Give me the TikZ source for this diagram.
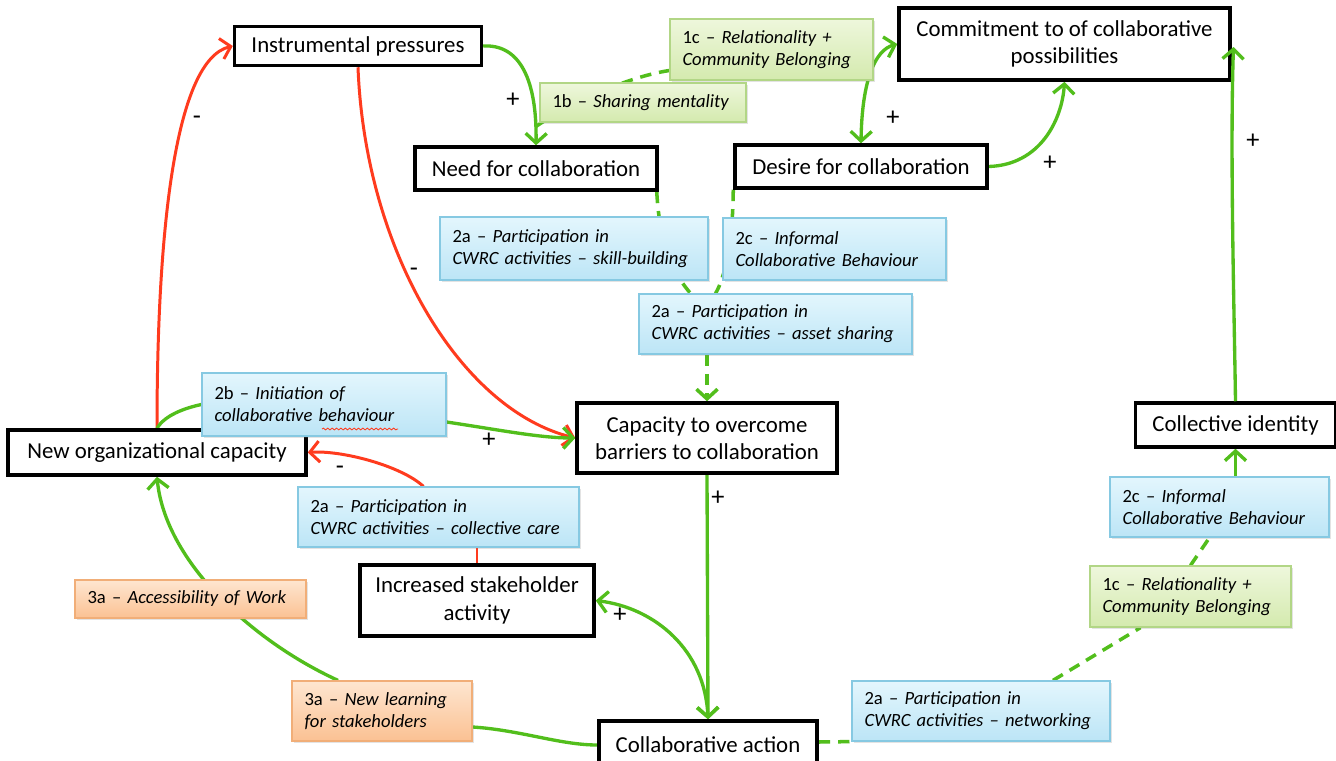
\documentclass[tikz,border=0pt]{standalone}
\usepackage{fontspec}
\setmainfont{Carlito}
\usetikzlibrary{positioning, arrows.meta, shadows, backgrounds, decorations.pathmorphing}
\definecolor{loopgreen}{HTML}{52BE1C}
\definecolor{loopred}{HTML}{FF3B1E}
\definecolor{bluetop}{HTML}{E3F6FD}
\definecolor{bluebot}{HTML}{BCE5F6}
\definecolor{blueedge}{HTML}{86C9E2}
\definecolor{greentop}{HTML}{EEF7DC}
\definecolor{greenbot}{HTML}{D4EAAE}
\definecolor{greenedge}{HTML}{B2D686}
\definecolor{orangetop}{HTML}{FEE6D0}
\definecolor{orangebot}{HTML}{FBC193}
\definecolor{orangeedge}{HTML}{F1AE78}

\tikzset{
  concept/.style={draw=black, line width=2pt, fill=white, align=center,
    font=\fontsize{13}{15.5}\selectfont, inner sep=2pt},
  evid/.style={draw=#1edge, line width=0.7pt, top color=#1top, bottom color=#1bot,
    align=left, inner xsep=0.25cm, inner ysep=2pt, font=\fontsize{10.6}{12.6}\selectfont,
    drop shadow={shadow xshift=1.2pt, shadow yshift=-1.2pt, opacity=0.22}},
  poslink/.style={draw=loopgreen, line width=1.9pt},
  neglink/.style={draw=loopred, line width=1.7pt},
  dashlink/.style={draw=loopgreen, line width=2pt, dash pattern=on 6.5pt off 4.5pt},
  sign/.style={font=\fontsize{15}{15}\selectfont},
  >={Straight Barb[length=5.5pt,width=12pt]}
}

\begin{document}
\begin{tikzpicture}[x=0.02cm, y=-0.02cm]
\useasboundingbox (0,0) rectangle (1336,761);

% factors
\node[concept, minimum width=4.94cm, minimum height=0.78cm] (inst) at (358,46) {Instrumental pressures};
\node[concept, minimum width=4.84cm, minimum height=0.86cm] (need) at (536,168.5) {Need for collaboration};
\node[concept, minimum width=5.04cm, minimum height=0.86cm] (desire) at (861,166.5) {Desire for collaboration};
\node[concept, minimum width=6.62cm, minimum height=1.44cm] (commit) at (1064.5,44) {Commitment to of collaborative\\possibilities};
\node[concept, minimum width=5.2cm, minimum height=1.4cm] (cap) at (707,438) {Capacity to overcome\\barriers to collaboration};
\node[concept, minimum width=5.96cm, minimum height=0.9cm] (neworg) at (157,452.5) {New organizational capacity};
\node[concept, minimum width=4.68cm, minimum height=1.42cm] (incr) at (477,600.5) {Increased stakeholder\\activity};
\node[concept, minimum width=4.36cm, minimum height=0.96cm] (action) at (708,745) {Collaborative action};
\node[concept, minimum width=4.0cm, minimum height=0.88cm] (ident) at (1235.5,425) {Collective identity};

% evidence boxes
\node[evid=green, text width=3.56cm, minimum height=1.22cm] (rel) at (771.5,49.5) {1c – \textit{Relationality +}\\\textit{Community Belonging}};
\node[evid=green, text width=3.62cm, minimum height=0.78cm] (share) at (643,102.5) {1b – \textit{Sharing mentality}};
\node[evid=blue, text width=4.86cm, minimum height=1.26cm] (skill) at (574,248.5) {2a – \textit{Participation in}\\\textit{CWRC activities – skill-building}};
\node[evid=blue, text width=3.96cm, minimum height=1.24cm] (inform) at (834.5,249) {2c – \textit{Informal}\\\textit{Collaborative Behaviour}};
\node[evid=blue, text width=4.96cm, minimum height=1.2cm] (asset) at (775.5,324) {2a – \textit{Participation in}\\\textit{CWRC activities – asset sharing}};
\node[evid=blue, text width=4.38cm, minimum height=1.26cm] (init) at (324,404.5) {2b – \textit{Initiation of}\\\textit{collaborative behaviour}};
\node[evid=blue, text width=5.12cm, minimum height=1.2cm] (care) at (438.5,517) {2a – \textit{Participation in}\\\textit{CWRC activities – collective care}};
\node[evid=orange, text width=4.12cm, minimum height=0.76cm] (access) at (190.5,599) {3a – \textit{Accessibility of Work}};
\node[evid=orange, text width=3.1cm, minimum height=1.2cm] (learn) at (382,711) {3a – \textit{New learning}\\\textit{for stakeholders}};
\node[evid=blue, text width=4.66cm, minimum height=1.2cm] (network) at (981,711) {2a – \textit{Participation in}\\\textit{CWRC activities – networking}};
\node[evid=green, text width=3.52cm, minimum height=1.22cm] (rel2) at (1190.5,596.5) {1c – \textit{Relationality +}\\\textit{Community Belonging}};
\node[evid=blue, text width=3.88cm, minimum height=1.2cm] (inform2) at (1219.5,507) {2c – \textit{Informal}\\\textit{Collaborative Behaviour}};

% spell-check squiggle
\draw[loopred, line width=0.5pt, decorate, decoration={snake, amplitude=0.5pt, segment length=2.5pt}] (322,429) -- (398,429);

\begin{scope}[on background layer]
\fill[white] (0,0) rectangle (1336,761);
% top loop
\draw[poslink, ->] (inst.east) .. controls (520,44) and (537,80) .. (need.north) coordinate[pos=0.9] (bend);
\draw[dashlink] (bend) .. controls (560,110) and (620,78) .. ([yshift=-0.42cm]rel.west);
\draw[poslink, <->] (desire.north) .. controls (862,80) and (875,50) .. (commit.west);
\draw[poslink, ->] (desire.east) .. controls (1040,165) and (1062,120) .. (commit.south);
\draw[dashlink] ([xshift=-0.04cm]need.south east) .. controls (660,250) and (675,275) .. ([xshift=-1.7cm]asset.north);
\draw[dashlink] (desire.south west) .. controls (733,240) and (725,278) .. ([xshift=-1.2cm]asset.north);
\draw[dashlink, ->] (cap.north |- asset.south) -- (cap.north);
% red links
\draw[neglink, ->] (inst.south) .. controls (365,250) and (460,410) .. (cap.west);
\draw[neglink, ->] (neworg.north) .. controls (157,230) and (175,60) .. (inst.west);
\draw[neglink, ->] ([xshift=-0.3cm]care.north) .. controls (400,465) and (340,450) .. (neworg.east);
\draw[neglink] (incr.north) -- (incr.north |- care.south);
% green links
\draw[poslink] (neworg.north) .. controls (165,415) and (185,408) .. (init.west);
\draw[poslink, ->] ([yshift=-0.35cm]init.east) .. controls (500,430) and (540,438) .. (cap.west);
\draw[poslink, ->] (cap.south) -- (action.north);
\draw[poslink, <->] (incr.east) .. controls (655,608) and (705,650) .. (action.north);
\draw[poslink] (action.west) .. controls (560,745) and (520,730) .. ([yshift=-0.32cm]learn.east);
\draw[poslink, ->] ([xshift=-0.88cm]learn.north) .. controls (250,640) and (165,560) .. (neworg.south);
% right side
\draw[dashlink] ([yshift=0.06cm]action.east) -- (network.south west);
\draw[dashlink] ([xshift=1.44cm]network.north) -- ([xshift=-1.0cm]rel2.south);
\draw[dashlink] (rel2.north) -- ([xshift=-0.2cm]inform2.south);
\draw[poslink, ->] (ident.south |- inform2.north) -- (ident.south);
\end{scope}
\draw[poslink, ->] (ident.north) .. controls (1234,300) and (1230,150) .. ([xshift=1pt, yshift=-0.06cm]commit.east);

% polarity signs
\foreach \x/\y/\s [count=\i] in {513/100/+, 414/272/-, 197/120/-, 489/440/+, 340/470/-,
  718/498/+, 620/615/+, 893/118/+, 1050/163/+, 1253/141/+}
  \node[sign] (sign\i) at (\x,\y) {\s};
\end{tikzpicture}
\end{document}
